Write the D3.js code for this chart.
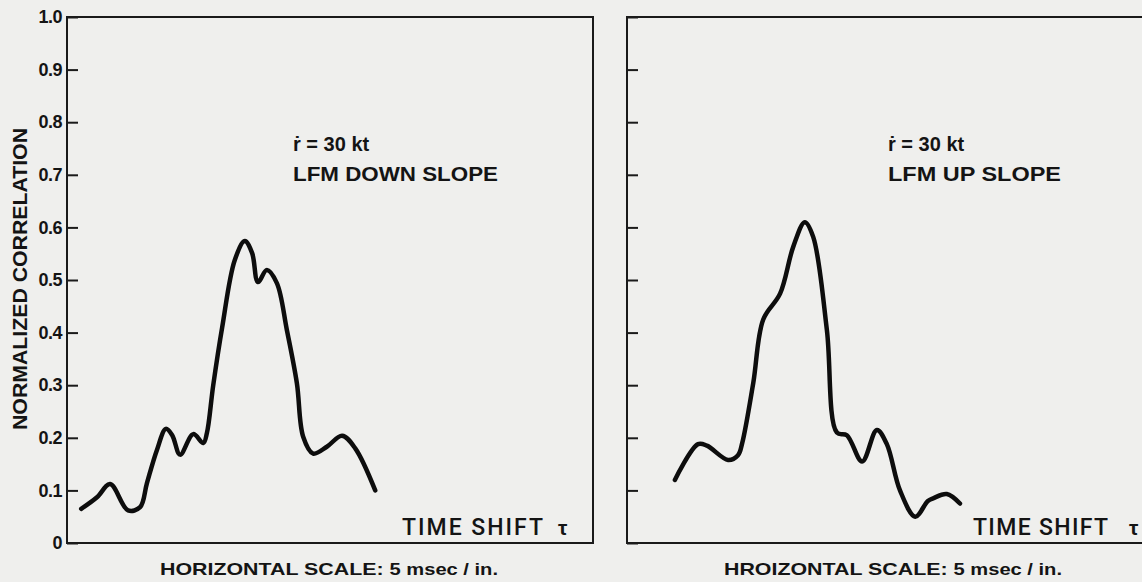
<!DOCTYPE html>
<html>
<head>
<meta charset="utf-8">
<script src="https://cdn.jsdelivr.net/npm/d3@7"></script>
<style>
  body { margin: 0; background: #efefed; }
  svg { display: block; }
  text { fill: #141414; font-family: "Liberation Sans", Arial, sans-serif; }
</style>
</head>
<body>
<div id="wrapper"></div>
<script>
// y ticks (shared by both panels)
const tickValues = [0, 0.1, 0.2, 0.3, 0.4, 0.5, 0.6, 0.7, 0.8, 0.9, 1.0];
const tickLabels = ["0", "0.1", "0.2", "0.3", "0.4", "0.5", "0.6", "0.7", "0.8", "0.9", "1.0"];

// time shift (arbitrary units, 0..100 across a panel) / normalized correlation
const downShift = [2.7, 5.7, 8.2, 11.6, 13.9, 15.2, 17.1, 18.8, 20.0, 21.5, 24.0, 25.9, 26.6, 27.8,
  29.5, 31.9, 33.8, 35.2, 36.3, 38.0, 39.9, 41.8, 43.7, 44.9, 46.8, 49.4, 52.3, 54.8, 58.6];
const downCorr = [0.065, 0.087, 0.112, 0.062, 0.068, 0.114, 0.177, 0.217, 0.205, 0.168, 0.207, 0.190, 0.209, 0.300,
  0.410, 0.538, 0.574, 0.551, 0.496, 0.519, 0.494, 0.405, 0.304, 0.202, 0.170, 0.183, 0.204, 0.180, 0.100];

const upShift = [9.1, 13.5, 15.2, 19.2, 21.1, 21.9, 24.0, 25.9, 29.1, 31.6, 33.8, 35.4, 38.0, 39.9,
  41.8, 44.7, 47.5, 49.4, 51.9, 54.8, 57.2, 58.2, 60.8, 63.3];
const upCorr = [0.120, 0.188, 0.185, 0.158, 0.167, 0.190, 0.304, 0.425, 0.474, 0.563, 0.610, 0.582, 0.405, 0.210,
  0.205, 0.155, 0.215, 0.188, 0.100, 0.050, 0.080, 0.085, 0.093, 0.075];

const panels = [
  { left: 67, shift: downShift, corr: downCorr, labels: true,
    note1: "\u1E59 = 30 kt", note2: "LFM DOWN SLOPE", noteX: 293, note2Len: 205,
    timeX: 402, timeLen: 141, tauX: 558,
    scaleText: "HORIZONTAL SCALE:", scaleX: 160 },
  { left: 627, shift: upShift, corr: upCorr, labels: false,
    note1: "\u1E59 = 30 kt", note2: "LFM UP SLOPE", noteX: 888, note2Len: 173,
    timeX: 973, timeLen: 135, tauX: 1129,
    scaleText: "HROIZONTAL SCALE:", scaleX: 724 }
];

const width = 1142, height = 582;
const plotTop = 17, plotBottom = 543, panelW = 526;

const svg = d3.select("#wrapper").append("svg")
  .attr("width", width)
  .attr("height", height);

const y = d3.scaleLinear().domain([0, 1]).range([plotBottom, plotTop]);

panels.forEach(p => {
  const x = d3.scaleLinear().domain([0, 100]).range([p.left, p.left + panelW]);
  const g = svg.append("g");

  // frame
  g.append("rect")
    .attr("x", p.left).attr("y", plotTop)
    .attr("width", panelW).attr("height", plotBottom - plotTop)
    .attr("fill", "none")
    .attr("stroke", "#1a1a1a")
    .attr("stroke-width", 2);

  // y axis, ticks pointing inward
  const axis = d3.axisLeft(y)
    .tickValues(tickValues)
    .tickSizeInner(-11)
    .tickSizeOuter(0)
    .tickPadding(5)
    .tickFormat((d, i) => p.labels ? tickLabels[i] : "");

  const ax = g.append("g")
    .attr("transform", `translate(${p.left},0)`)
    .call(axis);
  ax.select(".domain").remove();
  ax.selectAll(".tick line").attr("stroke", "#1a1a1a").attr("stroke-width", 2);
  ax.selectAll(".tick text")
    .style("font-size", "18px")
    .style("font-weight", "bold")
    .style("letter-spacing", "-0.5px")
    .attr("fill", "#141414");

  // curve
  const line = d3.line()
    .x(d => x(d[0]))
    .y(d => y(d[1]))
    .curve(d3.curveCatmullRom.alpha(0.5));

  g.append("path")
    .datum(d3.zip(p.shift, p.corr))
    .attr("d", line)
    .attr("fill", "none")
    .attr("stroke", "#0d0d0d")
    .attr("stroke-width", 4.5)
    .attr("stroke-linejoin", "round")
    .attr("stroke-linecap", "round");

  // notes
  g.append("text")
    .attr("x", p.noteX).attr("y", 151)
    .style("font-size", "20px").style("font-weight", "bold")
    .text(p.note1);
  g.append("text")
    .attr("x", p.noteX).attr("y", 181)
    .style("font-size", "21px").style("font-weight", "bold")
    .attr("textLength", p.note2Len)
    .attr("lengthAdjust", "spacingAndGlyphs")
    .text(p.note2);

  // time shift label
  g.append("text")
    .attr("x", p.timeX).attr("y", 535)
    .style("font-family", "Roboto, sans-serif")
    .style("font-size", "23px")
    .style("font-weight", 500)
    .attr("textLength", p.timeLen)
    .attr("lengthAdjust", "spacing")
    .text("TIME SHIFT");
  g.append("text")
    .attr("x", p.tauX).attr("y", 535)
    .style("font-size", "21px").style("font-weight", "bold")
    .text("\u03C4");

  // horizontal scale note
  const st = g.append("text")
    .attr("x", p.scaleX).attr("y", 575)
    .style("font-weight", "bold")
    .attr("textLength", 338)
    .attr("lengthAdjust", "spacingAndGlyphs");
  st.append("tspan").style("font-size", "17px").text(p.scaleText + " ");
  st.append("tspan").style("font-size", "16px").text("5 msec / in.");
});

// y axis title
svg.append("text")
  .attr("transform", `translate(27,${(128 + 430) / 2}) rotate(-90)`)
  .attr("text-anchor", "middle")
  .style("font-size", "20px")
  .style("font-weight", "bold")
  .attr("textLength", 302)
  .attr("lengthAdjust", "spacingAndGlyphs")
  .text("NORMALIZED CORRELATION");
</script>
</body>
</html>
